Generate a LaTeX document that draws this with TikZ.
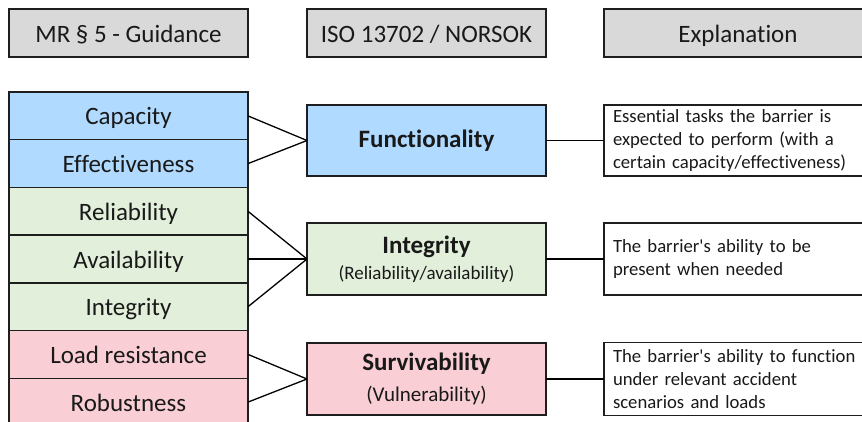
\documentclass[tikz,border=0pt]{standalone}
\usepackage{fontspec}
\setmainfont{Carlito}[Ligatures={NoCommon}]
\definecolor{hdrgray}{RGB}{217,217,217}
\definecolor{fblue}{RGB}{176,218,255}
\definecolor{fgreen}{RGB}{226,239,218}
\definecolor{fpink}{RGB}{249,206,213}
\definecolor{edge}{RGB}{30,30,30}
\begin{document}
\begin{tikzpicture}[x=1pt,y=-1pt,
  box/.style={draw=edge, line width=1.4pt, inner sep=0pt, outer sep=0pt, align=center, text=black!90},
  hdr/.style={box, fill=hdrgray, minimum height=48pt, text height=20pt, text depth=2pt, font=\fontsize{25}{30}\selectfont},
  row/.style={box, minimum width=239pt, minimum height=47.7pt, text height=20pt, text depth=2pt, font=\fontsize{25}{30}\selectfont},
  mid/.style={box, minimum width=239pt, font=\fontsize{25}{28}\selectfont},
  expl/.style={box, fill=white, text width=272pt, inner xsep=9pt, align=left, font=\fontsize{18.7}{22.6}\selectfont},
  conn/.style={draw=black, line width=1.3pt}
]
\useasboundingbox (0,0) rectangle (862,421);
\clip (0,0) rectangle (862,421);
\fill[white] (0,0) rectangle (862,421);

% headers
\node[hdr, minimum width=239pt] (h1) at (128.5,33) {MR § 5 - Guidance};
\node[hdr, minimum width=239pt] (h2) at (426.5,33) {ISO 13702 / NORSOK};
\node[hdr, minimum width=268pt] (h3) at (738,33) {Explanation};

% left rows
\node[row, fill=fblue]  (cap) at (128.5,115.9) {Capacity};
\node[row, fill=fblue]  (eff) at (128.5,163.6) {Effectiveness};
\node[row, fill=fgreen] (rel) at (128.5,211.3) {Reliability};
\node[row, fill=fgreen] (ava) at (128.5,259.0) {Availability};
\node[row, fill=fgreen] (int) at (128.5,306.7) {Integrity};
\node[row, fill=fpink]  (load) at (128.5,354.4) {Load resistance};
\node[row, fill=fpink]  (rob) at (128.5,402.1) {Robustness};

% middle boxes
\node[mid, fill=fblue, minimum height=71pt] (func) at (426.5,140.5) {\textbf{Functionality}};
\node[mid, fill=fgreen, minimum height=72pt] (integ) at (426.5,259) {\textbf{Integrity}\\[-2pt]{\fontsize{19}{28}\selectfont(Reliability/availability)}};
\node[mid, fill=fpink, minimum height=72pt] (surv) at (426.5,379) {\textbf{Survivability}\\[3pt]{\fontsize{21}{28}\selectfont(Vulnerability)}};

% explanation boxes (right edge lies beyond the picture's edge)
\node[expl, minimum height=71pt] (e1) at (749,140.5) {Essential tasks the barrier is\\expected to perform (with a\\certain capacity/effectiveness)};
\node[expl, minimum height=72pt] (e2) at (749,259) {The barrier\textquotesingle s ability to be\\present when needed};
\node[expl, minimum height=73pt] (e3) at (749,379) {The barrier\textquotesingle s ability to function\\under relevant accident\\scenarios and loads};

% connectors
\draw[conn] (cap.east) -- (func.west);
\draw[conn] (eff.east) -- (func.west);
\draw[conn] (rel.east) -- (integ.west);
\draw[conn] (ava.east) -- (integ.west);
\draw[conn] (int.east) -- (integ.west);
\draw[conn] (load.east) -- (surv.west);
\draw[conn] (rob.east) -- (surv.west);
\draw[conn] (func.east) -- (e1.west);
\draw[conn] (integ.east) -- (e2.west);
\draw[conn] (surv.east) -- (e3.west);
\end{tikzpicture}
\end{document}
